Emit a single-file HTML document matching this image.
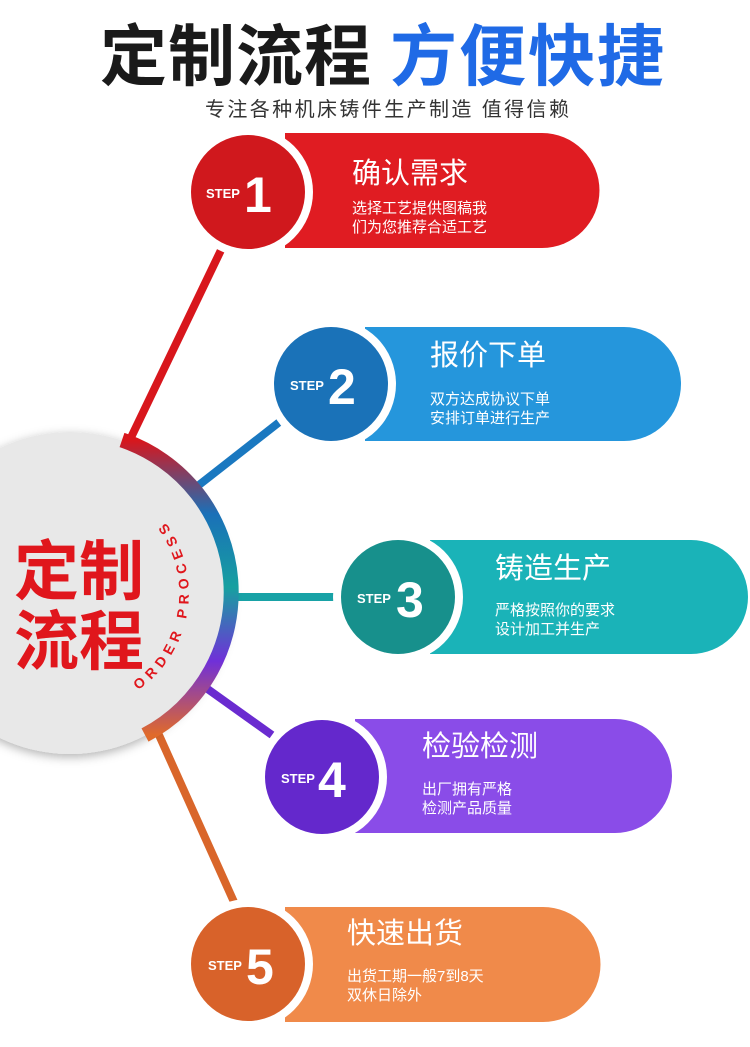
<!DOCTYPE html>
<html><head><meta charset="utf-8"><style>
html,body{margin:0;padding:0;background:#fff;}
svg{display:block;font-family:"Liberation Sans","Noto Sans CJK SC",sans-serif;}
</style></head><body>
<svg width="750" height="1047" viewBox="0 0 750 1047" xmlns="http://www.w3.org/2000/svg">
<defs>
<linearGradient id="ring" x1="0" y1="0" x2="0" y2="1">
<stop offset="0" stop-color="#d8161c"/><stop offset="0.25" stop-color="#1a70b8"/>
<stop offset="0.5" stop-color="#17a0a0"/><stop offset="0.75" stop-color="#7030d8"/>
<stop offset="1" stop-color="#e06a2a"/></linearGradient>
<filter id="sh" x="-20%" y="-20%" width="140%" height="140%"><feDropShadow dx="0" dy="3" stdDeviation="5" flood-opacity="0.3"/></filter>
</defs>
<text x="100" y="80" font-size="67" font-weight="bold" fill="#1a1a1a" letter-spacing="1">定制流程</text>
<text x="390" y="80" font-size="67" font-weight="bold" fill="#1f6ae6" letter-spacing="2">方便快捷</text>
<text x="205" y="116" font-size="20" fill="#333" letter-spacing="2.4">专注各种机床铸件生产制造 值得信赖</text>

<g stroke-width="8" stroke-linecap="butt">
<line x1="125" y1="450" x2="222" y2="248" stroke="#d8161c"/>
<line x1="190" y1="492" x2="282" y2="420" stroke="#1a78c0"/>
<line x1="225" y1="597" x2="340" y2="597" stroke="#18a2a6"/>
<line x1="195" y1="680" x2="272" y2="735" stroke="#6a2bd0"/>
<line x1="150" y1="715" x2="234" y2="902" stroke="#d9662a"/>
</g>

<circle cx="70" cy="593" r="161" fill="#e8e8e8" filter="url(#sh)"/>
<path d="M 122 440 A 161 161 0 0 1 145 735" fill="none" stroke="url(#ring)" stroke-width="15"/>
<text x="14" y="594" font-size="65" font-weight="bold" fill="#e0161c">定制</text>
<text x="14" y="664" font-size="65" font-weight="bold" fill="#e0161c">流程</text>
<path id="arc" d="M 138 690 A 118 118 0 0 0 138 496" fill="none"/>
<text font-size="14" font-weight="bold" fill="#e0161c" letter-spacing="5.5"><textPath href="#arc">ORDER PROCESS</textPath></text>

<path d="M285 133 H542 A57.5 57.5 0 0 1 542 248 H285 Z" fill="#e01c22"/>
<circle cx="248" cy="192" r="65" fill="#fff"/>
<circle cx="248" cy="192" r="57" fill="#d0181d"/>
<text x="206" y="198" font-size="13" font-weight="bold" fill="#fff">STEP</text>
<text x="244" y="212" font-size="50" font-weight="bold" fill="#fff">1</text>
<text x="352" y="183" font-size="29" fill="#fff">确认需求</text>
<text x="352" y="213" font-size="15" fill="#fff">选择工艺提供图稿我</text>
<text x="352" y="232" font-size="15" fill="#fff">们为您推荐合适工艺</text>

<path d="M365 327 H624 A57 57 0 0 1 624 441 H365 Z" fill="#2596dc"/>
<circle cx="331" cy="384" r="65" fill="#fff"/>
<circle cx="331" cy="384" r="57" fill="#1a72b8"/>
<text x="290" y="390" font-size="13" font-weight="bold" fill="#fff">STEP</text>
<text x="328" y="404" font-size="50" font-weight="bold" fill="#fff">2</text>
<text x="430" y="365" font-size="29" fill="#fff">报价下单</text>
<text x="430" y="404" font-size="15" fill="#fff">双方达成协议下单</text>
<text x="430" y="423" font-size="15" fill="#fff">安排订单进行生产</text>

<path d="M430 540 H691 A57 57 0 0 1 691 654 H430 Z" fill="#1ab3b8"/>
<circle cx="398" cy="597" r="65" fill="#fff"/>
<circle cx="398" cy="597" r="57" fill="#17908c"/>
<text x="357" y="603" font-size="13" font-weight="bold" fill="#fff">STEP</text>
<text x="396" y="617" font-size="50" font-weight="bold" fill="#fff">3</text>
<text x="495" y="578" font-size="29" fill="#fff">铸造生产</text>
<text x="495" y="615" font-size="15" fill="#fff">严格按照你的要求</text>
<text x="495" y="634" font-size="15" fill="#fff">设计加工并生产</text>

<path d="M355 719 H615 A57 57 0 0 1 615 833 H355 Z" fill="#8a4ce8"/>
<circle cx="322" cy="777" r="65" fill="#fff"/>
<circle cx="322" cy="777" r="57" fill="#6428cc"/>
<text x="281" y="783" font-size="13" font-weight="bold" fill="#fff">STEP</text>
<text x="318" y="797" font-size="50" font-weight="bold" fill="#fff">4</text>
<text x="422" y="756" font-size="29" fill="#fff">检验检测</text>
<text x="422" y="794" font-size="15" fill="#fff">出厂拥有严格</text>
<text x="422" y="813" font-size="15" fill="#fff">检测产品质量</text>

<path d="M285 907 H543 A57.5 57.5 0 0 1 543 1022 H285 Z" fill="#f08a4a"/>
<circle cx="248" cy="964" r="65" fill="#fff"/>
<circle cx="248" cy="964" r="57" fill="#d8622a"/>
<text x="208" y="970" font-size="13" font-weight="bold" fill="#fff">STEP</text>
<text x="246" y="984" font-size="50" font-weight="bold" fill="#fff">5</text>
<text x="347" y="943" font-size="29" fill="#fff">快速出货</text>
<text x="347" y="981" font-size="15" fill="#fff">出货工期一般7到8天</text>
<text x="347" y="1000" font-size="15" fill="#fff">双休日除外</text>
</svg>
</body></html>
